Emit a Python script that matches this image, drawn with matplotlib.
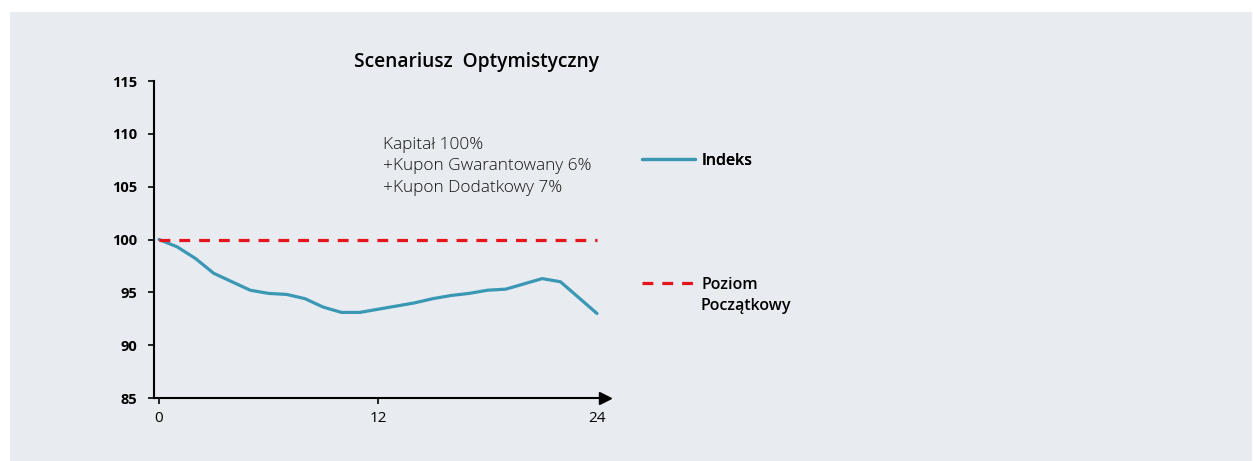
import matplotlib
matplotlib.use('Agg')
import matplotlib.pyplot as plt

# (miesiace 0-24)
months = list(range(25))
indeks = [100.0, 99.3, 98.2, 96.8, 96.0, 95.2, 94.9, 94.8, 94.4, 93.6,
          93.1, 93.1, 93.4, 93.7, 94.0, 94.4, 94.7, 94.9, 95.2, 95.3,
          95.8, 96.3, 96.0, 94.5, 93.0]
poziom_start = 100
x_ticks = [0, 12, 24]
y_ticks = [85, 90, 95, 100, 105, 110, 115]
title = 'Scenariusz  Optymistyczny'
note = 'Kapitał 100%\n+Kupon Gwarantowany 6%\n+Kupon Dodatkowy 7%'
labels = ['Indeks', 'Poziom', 'Początkowy']

bg = '#e8ebf0'
teal = '#3a98b4'
red = '#e8141c'
plt.rcParams['font.family'] = ['Open Sans', 'DejaVu Sans']

W, H = 1253, 461
fig = plt.figure(figsize=(W / 100, H / 100), dpi=100)
fig.patch.set_facecolor('white')
# szare tlo panelu
fig.add_artist(plt.Rectangle((10 / W, 0), 1 - 11 / W, 1 - 12 / H,
                             transform=fig.transFigure, facecolor=bg,
                             edgecolor='none', zorder=0))

ax = fig.add_axes([154 / W, 1 - 398 / H, (605 - 154) / W, (398 - 81) / H])
ax.set_facecolor('none')

line1, = ax.plot(months, indeks, color=teal, lw=2.3, solid_capstyle='round')
line2, = ax.plot([months[0], months[-1]], [poziom_start, poziom_start],
                 color=red, lw=2.3, dashes=(3.4, 2.8))

ax.set_xlim(-0.274, 24.44)
ax.set_ylim(85, 115)
ax.set_xticks(x_ticks)
ax.set_yticks(y_ticks)
for s in ['top', 'right']:
    ax.spines[s].set_visible(False)
ax.spines['left'].set_linewidth(1.5)
ax.spines['bottom'].set_linewidth(1.5)
ax.tick_params(axis='both', direction='out', length=4, width=1.2)
ax.tick_params(axis='y', pad=8, labelsize=10.5)
ax.tick_params(axis='x', pad=5, labelsize=11)
for lab in ax.get_yticklabels():
    lab.set_fontweight('bold')
ax.xaxis.get_major_ticks()[-1].tick1line.set_visible(False)
# strzalka na osi x
ax.plot(1, 0, '>k', ms=8, transform=ax.transAxes, clip_on=False)

fig.text(476 / W, 1 - 62 / H, title, ha='center', va='center',
         fontsize=13.8, fontweight='semibold')
fig.text(383 / W, 1 - 137 / H, note, ha='left', va='top',
         fontsize=12.4, fontweight='light', linespacing=1.45, color='#111111')

legprops = dict(frameon=False, borderpad=0, borderaxespad=0,
                handlelength=3.3, handletextpad=0.4,
                bbox_transform=fig.transFigure,
                prop={'size': 11.5, 'weight': 'semibold'})
leg1 = fig.legend([line1], [labels[0]], loc='center left',
                  bbox_to_anchor=(642 / W, 1 - 161 / H), **legprops)
leg2 = fig.legend([line2], [labels[1]], loc='center left',
                  bbox_to_anchor=(642 / W, 1 - 285 / H), **legprops)
fig.add_artist(leg1)
fig.text(701 / W, 1 - 306 / H, labels[2], ha='left', va='center',
         fontsize=11.5, fontweight='semibold')

fig.savefig('out.png', dpi=100, facecolor=fig.get_facecolor())
